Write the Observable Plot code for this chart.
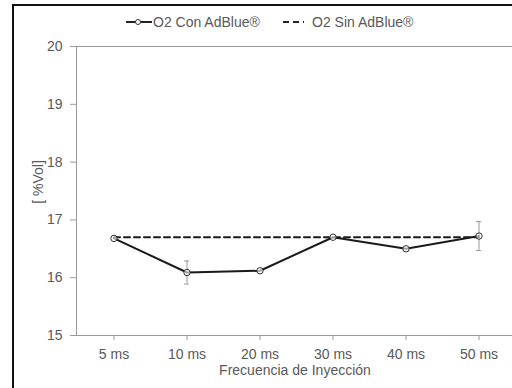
<!DOCTYPE html>
<html><head><meta charset="utf-8">
<script src="https://cdn.jsdelivr.net/npm/d3@7"></script>
<script src="https://cdn.jsdelivr.net/npm/@observablehq/plot@0.6"></script>
<style>
html,body{margin:0;padding:0;width:512px;height:388px;overflow:hidden;background:#fff;font-family:"Liberation Sans",Arial,sans-serif;}
#wrap{position:relative;width:512px;height:388px;overflow:hidden;}
#bl{position:absolute;left:12px;top:4px;width:2px;height:384px;background:#111;}
#bt{position:absolute;left:12px;top:4px;width:500px;height:2px;background:#111;}
#chart{position:absolute;left:0;top:0;width:512px;height:388px;}
#chart svg{display:block;overflow:hidden;}
.lbl{position:absolute;color:#595959;font-size:14px;white-space:nowrap;}
#ylab{left:38px;top:182px;transform:translate(-50%,-50%) rotate(-90deg);font-size:14px;}
#xlab{left:295px;top:370px;transform:translate(-50%,-50%);font-size:14px;}
.leg{position:absolute;top:14px;font-size:14px;line-height:16px;color:#595959;display:flex;align-items:center;white-space:nowrap;}
.leg svg{display:block;}
</style></head>
<body><div id="wrap">
<div id="chart"></div>
<div id="bl"></div><div id="bt"></div>
<div class="leg" style="left:126px">
  <svg width="26" height="10"><line x1="0" y1="5" x2="26" y2="5" stroke="#222" stroke-width="2"/><circle cx="12" cy="5" r="2.5" fill="#fff" stroke="#333" stroke-width="1"/></svg>
  <span style="margin-left:1px">O2 Con AdBlue®</span>
</div>
<div class="leg" style="left:283px">
  <svg width="21" height="10"><line x1="0" y1="5" x2="21" y2="5" stroke="#222" stroke-width="2" stroke-dasharray="6,4"/></svg>
  <span style="margin-left:8px">O2 Sin AdBlue®</span>
</div>
<div class="lbl" id="ylab">[ %Vol]</div>
<div class="lbl" id="xlab">Frecuencia de Inyección</div>
</div>
<script>
const categories = ["5 ms", "10 ms", "20 ms", "30 ms", "40 ms", "50 ms"];
const conAdBlue = [16.68, 16.09, 16.12, 16.70, 16.50, 16.72];
const conError = [0, 0.20, 0, 0, 0, 0.25];
const sinAdBlue = [16.70, 16.70, 16.70, 16.70, 16.70, 16.70];
const yTicks = [15, 16, 17, 18, 19, 20];

const con = categories.map((c, i) => ({cat: c, v: conAdBlue[i], e: conError[i]}));
const sin = categories.map((c, i) => ({cat: c, v: sinAdBlue[i]}));
const errs = con.filter(d => d.e > 0);

const chart = Plot.plot({
  width: 512, height: 388,
  marginLeft: 76, marginRight: -4, marginTop: 46, marginBottom: 53,
  style: {fontFamily: '"Liberation Sans", Arial, sans-serif', fontSize: "14px", color: "#595959", background: "transparent"},
  x: {type: "band", domain: categories, padding: 0, range: [76, 515], label: null},
  y: {domain: [15, 20], label: null},
  marks: [
    Plot.frame({stroke: "#999", strokeWidth: 1}),
    Plot.axisY({ticks: yTicks, tickSize: 6, tickPadding: 8, stroke: "#999", label: null, tickFormat: d3.format("d"), fill: "#595959"}),
    Plot.axisX({tickSize: 5, tickPadding: 9, stroke: "#999", label: null, fill: "#595959"}),
    Plot.ruleX(errs, {x: "cat", y1: d => d.v - d.e, y2: d => d.v + d.e, stroke: "#999", strokeWidth: 1}),
    Plot.tickY(errs, {x: "cat", y: d => d.v - d.e, stroke: "#999", strokeWidth: 1, insetLeft: 34, insetRight: 34}),
    Plot.tickY(errs, {x: "cat", y: d => d.v + d.e, stroke: "#999", strokeWidth: 1, insetLeft: 34, insetRight: 34}),
    Plot.line(con, {x: "cat", y: "v", stroke: "#1a1a1a", strokeWidth: 2}),
    Plot.line(sin, {x: "cat", y: "v", stroke: "#1a1a1a", strokeWidth: 2, strokeDasharray: "6,4"}),
    Plot.dot(con, {x: "cat", y: "v", r: 3.2, fill: "#fff", fillOpacity: 0.6, stroke: "#333", strokeWidth: 1})
  ]
});
chart.style.maxWidth = "none";
document.getElementById("chart").appendChild(chart);
</script>
</body></html>
